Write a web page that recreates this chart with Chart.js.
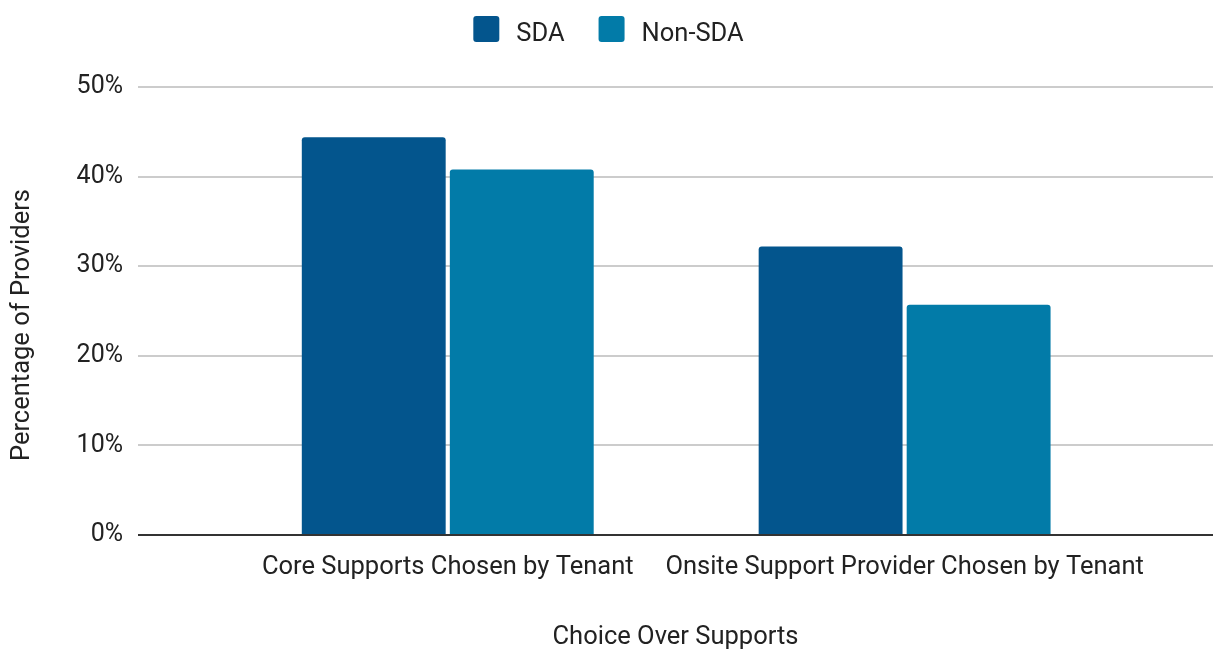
<!DOCTYPE html>
<html>
<head>
<meta charset="utf-8">
<title>Choice Over Supports</title>
<script src="https://cdn.jsdelivr.net/npm/chart.js@4.4.1/dist/chart.umd.min.js"></script>
<style>
  html, body { margin: 0; padding: 0; background: #ffffff; }
  #wrap { width: 1213px; height: 651px; position: relative; }
</style>
</head>
<body>
<div id="wrap"><canvas id="chart"></canvas></div>
<script>
// Chart data
const categories = ['Core Supports Chosen by Tenant', 'Onsite Support Provider Chosen by Tenant'];
const seriesNames = ['SDA', 'Non-SDA'];
const sdaValues = [44.4, 32.2];
const nonSdaValues = [40.8, 25.7];
const yTickValues = [0, 10, 20, 30, 40, 50];
const yAxisTitle = 'Percentage of Providers';
const xAxisTitle = 'Choice Over Supports';

const seriesColors = ['#03558d', '#027ba8'];
const textColor = '#222222';
const fontFamily = 'Roboto, "Liberation Sans", sans-serif';

Chart.defaults.font.family = fontFamily;
Chart.defaults.font.size = 25.5;
Chart.defaults.color = textColor;

// Horizontal legend row above the plot: rounded swatch followed by the series name
const legendRow = {
  id: 'legendRow',
  afterDraw(chart) {
    const ctx = chart.ctx;
    const box = 26, textGap = 17, itemGap = 34, boxTop = 16, baseline = 41;
    ctx.save();
    ctx.font = '25.5px ' + fontFamily;
    const items = chart.data.datasets.map(ds => ({
      label: ds.label,
      color: ds.backgroundColor,
      w: ctx.measureText(ds.label).width
    }));
    const total = items.reduce((s, it) => s + box + textGap + it.w, 0) + itemGap * (items.length - 1);
    let x = (chart.width - total) / 2 + 2;
    items.forEach(it => {
      ctx.fillStyle = it.color;
      ctx.beginPath();
      ctx.roundRect(x, boxTop, box, box, 3);
      ctx.fill();
      ctx.fillStyle = textColor;
      ctx.textBaseline = 'alphabetic';
      ctx.textAlign = 'left';
      ctx.fillText(it.label, x + box + textGap, baseline);
      x += box + textGap + it.w + itemGap;
    });
    ctx.restore();
  }
};

// Vertical axis title, set a little below the middle of the plot
const yTitle = {
  id: 'yTitle',
  afterDraw(chart) {
    const ctx = chart.ctx;
    const area = chart.chartArea;
    ctx.save();
    ctx.font = '25.5px ' + fontFamily;
    ctx.fillStyle = textColor;
    ctx.translate(23, (area.top + area.bottom) / 2 + 14);
    ctx.rotate(-Math.PI / 2);
    ctx.textAlign = 'center';
    ctx.textBaseline = 'middle';
    ctx.fillText(yAxisTitle, 0, 0);
    ctx.restore();
  }
};

const toPoints = values => values.map((v, i) => ({ x: i, y: v }));

new Chart(document.getElementById('chart'), {
  type: 'bar',
  data: {
    datasets: [
      { label: seriesNames[0], data: toPoints(sdaValues), backgroundColor: seriesColors[0] },
      { label: seriesNames[1], data: toPoints(nonSdaValues), backgroundColor: seriesColors[1] }
    ]
  },
  options: {
    responsive: true,
    maintainAspectRatio: false,
    animation: false,
    layout: { padding: { top: 87, right: 0, bottom: 0, left: 0 } },
    datasets: {
      bar: {
        categoryPercentage: 0.648,
        barPercentage: 0.972,
        borderRadius: 3,
        borderSkipped: 'start'
      }
    },
    plugins: {
      legend: { display: false },
      tooltip: { enabled: false }
    },
    scales: {
      x: {
        type: 'linear',
        min: -0.678,
        max: 1.675,
        offset: false,
        grid: { display: false },
        border: { display: false },
        afterBuildTicks(scale) {
          scale.ticks = categories.map((c, i) => ({ value: i }));
        },
        afterFit(scale) { scale.height = 116; },
        ticks: {
          autoSkip: false,
          maxRotation: 0,
          padding: 9,
          color: textColor,
          font: { size: 25.5 },
          callback: v => categories[v] ?? ''
        },
        title: {
          display: true,
          text: xAxisTitle,
          color: textColor,
          padding: { top: 0, bottom: -2 }
        }
      },
      y: {
        min: 0,
        max: 50,
        afterBuildTicks(scale) {
          scale.ticks = yTickValues.map(v => ({ value: v }));
        },
        afterFit(scale) { scale.width = 138; },
        border: { display: false },
        grid: {
          drawTicks: false,
          lineWidth: 2,
          color: c => (c.tick && c.tick.value === 0) ? '#333333' : '#cccccc'
        },
        ticks: {
          padding: 15,
          color: textColor,
          font: { size: 25 },
          callback: v => v + '%'
        },
        title: { display: false }
      }
    }
  },
  plugins: [legendRow, yTitle]
});
</script>
</body>
</html>
